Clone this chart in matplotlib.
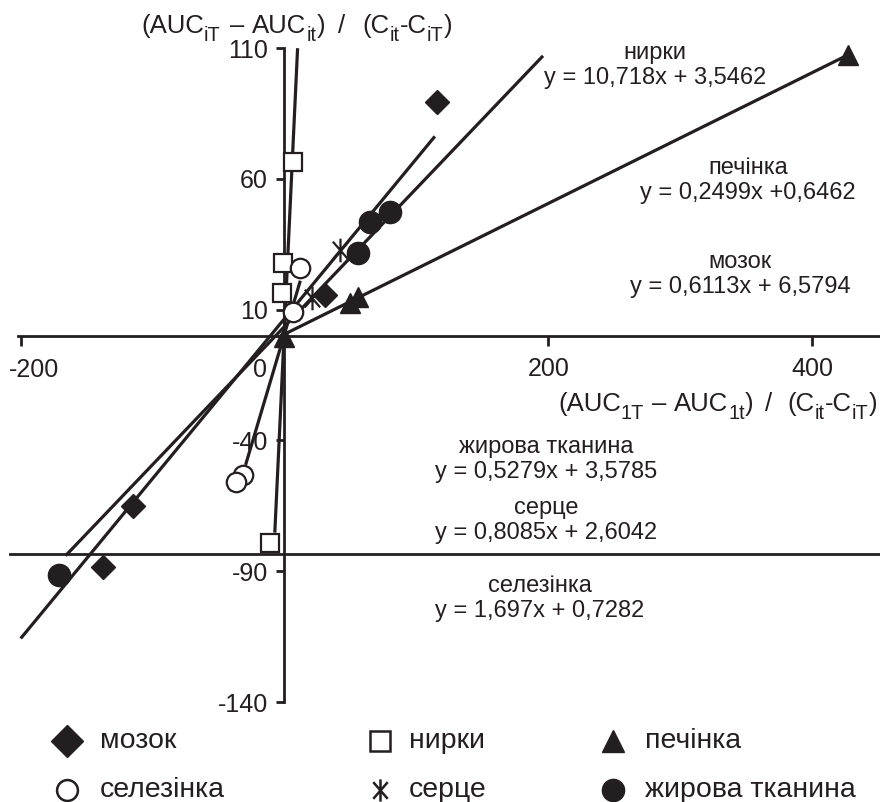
import matplotlib
matplotlib.use("Agg")
import matplotlib.pyplot as plt
from matplotlib.path import Path
import numpy as np

plt.rcParams["font.family"] = ["Liberation Sans", "DejaVu Sans"]

INK = "#231f20"
FS = 17          # equations
FS_TICK = 18
FS_LEG = 20.5
FS_LABEL = 18.5
W, H = 880, 802

# ── data ─────────────────────────────────────────────────────────────────────
BRAIN_X = [115.6, 30.7, -115.1, -137.9]
BRAIN_Y = [89.4, 15.6, -65.1, -88.3]
KIDNEY_X = [6.4, -1.1, -1.9, -11.0]
KIDNEY_Y = [66.4, 27.8, 16.4, -79.2]
LIVER_X = [427.5, 49.7, 55.6, 0.0]
LIVER_Y = [107.3, 12.5, 14.8, -0.5]
SPLEEN_X = [11.8, 6.4, -31.5, -36.8]
SPLEEN_Y = [25.9, 9.1, -53.2, -55.9]
HEART_X = [42.1, 20.9]
HEART_Y = [32.8, 14.4]
FAT_X = [55.7, 64.8, 80.0, -171.0]
FAT_Y = [31.6, 43.5, 47.3, -91.5]

# trend lines as drawn: slope, intercept, x extent
FIT_SLOPES = [0.6113, 0.5279, 0.2499, 10.718, 1.697]
FIT_INTERCEPTS = [6.5794, 3.5785, 0.6462, 3.5462, 0.7282]
FIT_XMIN = [-200, -166, -5, -7.35, -29.5]
FIT_XMAX = [114, 196, 427, 9.93, 12]

HLINE_Y = -83.2

X_TICKS = [200, 400]
Y_TICKS = [110, 60, 10, -40, -90, -140]

EQ_NAMES = ["нирки", "печінка", "мозок", "жирова тканина", "серце", "селезінка"]
EQ_TEXTS = ["y = 10,718x + 3,5462", "y = 0,2499x +0,6462", "y = 0,6113x + 6,5794",
            "y = 0,5279x + 3,5785", "y = 0,8085x + 2,6042", "y = 1,697x + 0,7282"]
EQ_POS = [(655, 53), (748, 168), (740, 262), (546, 447), (546, 508), (540, 586)]

LEGEND_LABELS = ["мозок", "нирки", "печінка", "селезінка", "серце", "жирова тканина"]

# axis titles: (text, is_subscript, gap weight after piece)
YLABEL = [("(AUC", 0, 0), ("iT", 1, 0.7), ("–", 0, 0.6), ("AUC", 0, 0), ("it", 1, 0),
          (")", 0, 1), ("/", 0, 1.3), ("(C", 0, 0), ("it", 1, 0), ("-C", 0, 0),
          ("iT", 1, 0), (")", 0, 0)]
XLABEL = [("(AUC", 0, 0), ("1T", 1, 0.7), ("–", 0, 0.6), ("AUC", 0, 0), ("1t", 1, 0),
          (")", 0, 1), ("/", 0, 1.3), ("(C", 0, 0), ("it", 1, 0), ("-C", 0, 0),
          ("iT", 1, 0), (")", 0, 0)]


def px(x, y):
    return x / W, 1 - y / H


def rich_label(fig, pieces, x0, x1, base, size=FS_LABEL, sub_scale=0.78, drop=8):
    """Lay out text with subscripts between x0 and x1 (pixels)."""
    r = fig.canvas.get_renderer()
    texts, widths = [], []
    for s, sub, _ in pieces:
        t = fig.text(0, 0, s, fontsize=size * (sub_scale if sub else 1),
                     ha="left", va="baseline", color=INK)
        texts.append(t)
        widths.append(t.get_window_extent(renderer=r).width)
    weights = [g for _, _, g in pieces]
    extra = (x1 - x0) - sum(widths)
    unit = max(extra, 0) / sum(weights)
    x = x0
    for t, (s, sub, g), w in zip(texts, pieces, widths):
        t.set_position(px(x, base + (drop if sub else 0)))
        x += w + g * unit


# asterisk marker like in the original (vertical bar + cross)
ASTER = Path([(0, -1), (0, 1), (-0.65, -0.75), (0.65, 0.75), (-0.65, 0.75), (0.65, -0.75)],
             [Path.MOVETO, Path.LINETO] * 3)

fig = plt.figure(figsize=(W / 100, H / 100), dpi=100)
ax = fig.add_axes([0, 0, 1, 1])
ax.set_xlim(-215.7, 451.5)
ax.set_ylim(-178.2, 128.4)
ax.patch.set_visible(False)

for s in ["top", "right"]:
    ax.spines[s].set_visible(False)
for s in ["left", "bottom"]:
    ax.spines[s].set_position(("data", 0))
    ax.spines[s].set_linewidth(2)
    ax.spines[s].set_color(INK)
ax.spines["left"].set_bounds(-140, 110)
ax.spines["bottom"].set_bounds(-202, 451.5)

ax.set_xticks([-200] + X_TICKS)
ax.set_xticklabels([""] + [str(t) for t in X_TICKS])
ax.set_yticks(Y_TICKS)
ax.set_yticklabels([str(t) for t in Y_TICKS])
ax.tick_params(axis="y", direction="out", length=5.8, width=2, pad=6,
               labelsize=FS_TICK, color=INK, labelcolor=INK)
ax.tick_params(axis="x", direction="out", length=7, width=2, pad=8,
               labelsize=FS_TICK, color=INK, labelcolor=INK)

ax.text(*px(9, 370), "-200", transform=ax.transAxes, ha="left", va="center",
        fontsize=FS_TICK, color=INK)
ax.text(*px(260, 370), "0", transform=ax.transAxes, ha="center", va="center",
        fontsize=FS_TICK, color=INK)

# second horizontal rule
ax.plot([-208, 451.5], [HLINE_Y, HLINE_Y], color=INK, lw=2, zorder=2, clip_on=False)

# trend lines
for k, b, x0, x1 in zip(FIT_SLOPES, FIT_INTERCEPTS, FIT_XMIN, FIT_XMAX):
    xs = np.array([x0, x1])
    ax.plot(xs, k * xs + b, color=INK, lw=2.3, solid_capstyle="butt", zorder=2)

# points
ax.plot(BRAIN_X, BRAIN_Y, "D", ms=12.5, mfc=INK, mec=INK, ls="none", zorder=3)
ax.plot(FAT_X, FAT_Y, "o", ms=16, mfc=INK, mec=INK, ls="none", zorder=3)
ax.plot(LIVER_X, LIVER_Y, "^", ms=15, mfc=INK, mec=INK, ls="none", zorder=3)
ax.plot(HEART_X, HEART_Y, marker=ASTER, ms=17, mfc="none", mec=INK, mew=1.6,
        ls="none", zorder=3)
ax.plot(KIDNEY_X, KIDNEY_Y, "s", ms=13.5, mfc="white", mec=INK, mew=1.6, ls="none", zorder=4)
ax.plot(SPLEEN_X, SPLEEN_Y, "o", ms=14, mfc="white", mec=INK, mew=1.6, ls="none", zorder=4)

# axis titles
rich_label(fig, YLABEL, 141, 452, 33)
rich_label(fig, XLABEL, 558, 877, 411)

# regression equations
for name, eq, (x, y) in zip(EQ_NAMES, EQ_TEXTS, EQ_POS):
    ax.text(*px(x, y), name, transform=ax.transAxes, ha="center", va="center",
            fontsize=FS, color=INK)
    ax.text(*px(x, y + 25), eq, transform=ax.transAxes, ha="center", va="center",
            fontsize=FS, color=INK)

# legend drawn by hand, two rows of three
legend_styles = [
    dict(marker="D", ms=16, mfc=INK, mec=INK),
    dict(marker="s", ms=15, mfc="white", mec=INK, mew=1.8),
    dict(marker="^", ms=16, mfc=INK, mec=INK),
    dict(marker="o", ms=15, mfc="white", mec=INK, mew=1.8),
    dict(marker=ASTER, ms=16, mfc="none", mec=INK, mew=1.8),
    dict(marker="o", ms=16, mfc=INK, mec=INK),
]
marker_x = [67, 380, 613]
text_x = [100, 409, 645]
row_y = [741, 790]
for i, (lab, st) in enumerate(zip(LEGEND_LABELS, legend_styles)):
    r, c = divmod(i, 3)
    ax.plot(*px(marker_x[c], row_y[r]), transform=ax.transAxes, ls="none",
            clip_on=False, **st)
    ax.text(*px(text_x[c], row_y[r]), lab, transform=ax.transAxes, ha="left",
            va="center", fontsize=FS_LEG, color=INK)

fig.savefig("out.png", dpi=100)
